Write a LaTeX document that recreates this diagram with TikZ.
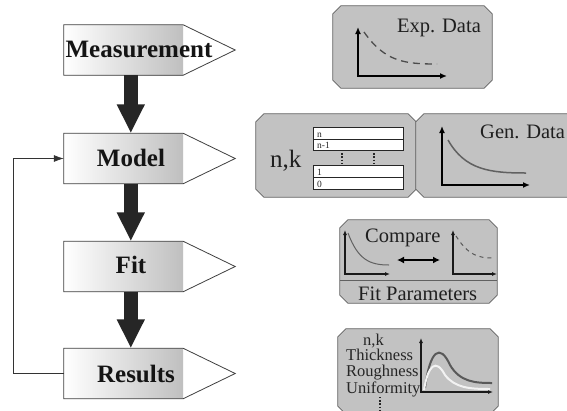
\documentclass[tikz,border=0pt]{standalone}
\usepackage{fontspec}
\setmainfont{Liberation Serif}
\newfontfamily\serifx{Liberation Serif}
\usetikzlibrary{arrows.meta,calc}
\newcommand\chamferpanel[2][]{%
  \draw[panelline,#1] ($(#2.north west)+(8,0)$) -- ($(#2.north east)+(-8,0)$) -- ($(#2.north east)+(0,8)$)
   -- ($(#2.south east)+(0,-8)$) -- ($(#2.south east)+(-8,0)$) -- ($(#2.south west)+(8,0)$)
   -- ($(#2.south west)+(0,-8)$) -- ($(#2.north west)+(0,8)$) -- cycle;}
\begin{document}
\begin{tikzpicture}[x=1pt,y=-1pt,
 fbox/.style={rectangle,inner sep=0pt,minimum width=119pt,minimum height=50pt,left color=white,right color=black!25,draw=none},
 fline/.style={draw=black!75,line width=0.8pt,line join=miter},
 flabel/.style={font=\serifx\fontsize{25}{25}\bfseries\selectfont,text=black!92,anchor=base,inner sep=0pt},
 bigarrow/.style={draw=black!85,line width=14pt,-{Triangle[length=29pt,width=26pt]}},
 loopline/.style={draw=black!80,line width=0.8pt,-{Latex[length=10pt,width=7pt]}},
 panel/.style={rectangle,inner sep=0pt,draw=none},
 panelline/.style={fill=black!24,draw=black!62,line width=0.8pt,line join=miter},
 ptext/.style={font=\serifx\fontsize{20.5}{20.5}\selectfont,text=black!88,anchor=base west,inner sep=0pt},
 rtext/.style={font=\serifx\fontsize{16.5}{16.5}\selectfont,text=black!85,anchor=base west,inner sep=0pt},
 ltext/.style={font=\serifx\fontsize{9.5}{9.5}\selectfont,text=black!85,anchor=base west,inner sep=0pt},
 bigaxes/.style={draw=black,line width=1.8pt,line join=miter,{Latex[length=7pt,width=6pt]}-{Latex[length=7pt,width=6pt]}},
 smallaxes/.style={draw=black!90,line width=1.1pt,line join=miter,{Latex[length=5pt,width=4pt]}-{Latex[length=5pt,width=4pt]}},
 layer/.style={fill=white,draw=black!85,line width=0.6pt},
 dots/.style={draw=black!85,line width=1.4pt,dash pattern=on 1.4pt off 1.8pt},
]
\useasboundingbox (0,0) rectangle (567,410);
\clip (0,0) rectangle (567,410);
\fill[white] (0,0) rectangle (567,410);

% ---- flow boxes ----
\node[fbox] (meas) at (123.5,50) {};
\node[fbox] (model) at (123.5,158.5) {};
\node[fbox] (fit) at (123.5,266.5) {};
\node[fbox] (results) at (123.5,373.5) {};
\foreach \b in {meas,model,fit,results}{
  \draw[fline] (\b.north west) -- (\b.north east) -- ($(\b.east)+(52,0)$) -- (\b.south east) -- (\b.south west) -- cycle;
}
\node[flabel] (measT) at (139,57) {Measurement};
\node[flabel] (modelT) at (131,166) {Model};
\node[flabel] (fitT) at (131,273) {Fit};
\node[flabel] (resultsT) at (136,382) {Results};

% ---- connectors ----
\draw[bigarrow] ($(meas.south west)+(67,0)$) -- ($(model.north west)+(67,0)$);
\draw[bigarrow] ($(model.south west)+(67,0)$) -- ($(fit.north west)+(67,0)$);
\draw[bigarrow] ($(fit.south west)+(67,0)$) -- ($(results.north west)+(67,0)$);
\draw[loopline] (results.west) -- ++(-50,0) |- (model.west);

% ---- panels ----
\node[panel,minimum width=159pt,minimum height=82pt] (exp) at (412.5,47) {};
\node[panel,minimum width=160pt,minimum height=83pt] (nk) at (336,155.5) {};
\node[panel,minimum width=160pt,minimum height=83pt] (gen) at (496,155.5) {};
\node[panel,minimum width=157pt,minimum height=83pt] (fitp) at (418.5,261.5) {};
\node[panel,minimum width=160pt,minimum height=85pt] (res) at (418,371.5) {};
\foreach \p in {exp,nk,gen,fitp,res}{\chamferpanel{\p}}

% Exp. Data
\node[ptext] (expT) at (397,32) {Exp. Data};
\draw[bigaxes] (358,27) -- (358,76) -- (447,76);
\draw[black!70,line width=1.3pt,dash pattern=on 7pt off 5pt] (364,32) .. controls (385,62) and (405,64) .. (437,64);

% Model panel
\node[ptext,font=\serifx\fontsize{25}{25}\selectfont] (nkT) at (270,167) {n,k};
\draw[layer] (313,127.3) rectangle (403,139.5);
\draw[layer] (313,139.5) rectangle (403,150);
\draw[layer] (313,165.7) rectangle (403,177.7);
\draw[layer] (313,177.7) rectangle (403,189.3);
\node[ltext] (ln) at (317,137.5) {n};
\node[ltext] (ln1) at (317,148) {n-1};
\node[ltext] (l1) at (317,175.5) {1};
\node[ltext] (l0) at (317,187.5) {0};
\draw[dots] (342,150) -- (342,165.7);
\draw[dots] (374,150) -- (374,165.7);

% Gen. Data
\node[ptext] (genT) at (480,138) {Gen. Data};
\draw[bigaxes] (442,126) -- (442,185) -- (530,185);
\draw[black!62,line width=1.5pt] (448,140) .. controls (465,170) and (490,173) .. (526,173);

% Fit panel
\draw[black!62,line width=0.8pt] (340,280) -- (497,280);
\node[ptext] (cmpT) at (365,242) {Compare};
\node[ptext] (fpT) at (358,300) {Fit Parameters};
\draw[smallaxes] (345,230) -- (345,274) -- (390,274);
\draw[black!62,line width=1pt] (348,233) .. controls (358,260) and (370,265) .. (389,265);
\draw[black,line width=2pt,{Latex[length=7pt,width=7pt]}-{Latex[length=7pt,width=7pt]}] (397,260) -- (440,260);
\draw[smallaxes] (453,230) -- (453,274) -- (497,274);
\draw[black!65,line width=1pt,dash pattern=on 4pt off 4pt] (456,236) .. controls (468,255) and (478,258) .. (493,258);

% Results panel
\node[rtext] (rnk) at (363,345) {n,k};
\node[rtext] (rth) at (346,360) {Thickness};
\node[rtext] (rro) at (346,376) {Roughness};
\node[rtext] (run) at (346,393) {Uniformity};
\draw[dots,line width=1.2pt] (380,397) -- (380,412);
\draw[smallaxes] (421,338) -- (421,392) -- (493,392);
\draw[black!65,line width=2pt] (425,388) .. controls (430,350) and (440,343) .. (450,365) .. controls (460,382) and (475,383) .. (492,383);
\draw[white!95!black,line width=2pt] (424,390) .. controls (428,365) and (436,358) .. (445,375) .. controls (455,388) and (470,389) .. (490,389);
\end{tikzpicture}
\end{document}
